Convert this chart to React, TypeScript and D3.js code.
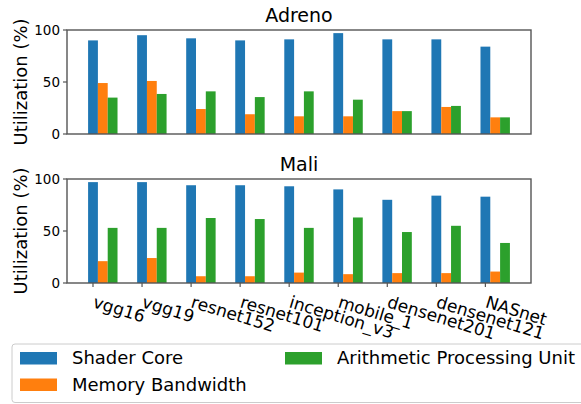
import React from "react";
import * as d3 from "d3";

const categories = ["vgg16", "vgg19", "resnet152", "resnet101", "inception_v3", "mobile_1", "densenet201", "densenet121", "NASnet"];
const seriesNames = ["Shader Core", "Memory Bandwidth", "Arithmetic Processing Unit"];
const colors = ["#1f77b4", "#ff7f0e", "#2ca02c"];

const adrenoShader = [90, 95, 92, 90, 91, 97, 91, 91, 84];
const adrenoMemory = [49, 51, 24, 19, 17, 17, 22, 26, 16];
const adrenoAPU = [35, 38.5, 41, 35.5, 41, 33, 22, 27, 16];

const maliShader = [97, 97, 94, 94, 93, 90, 80, 84, 83];
const maliMemory = [21, 24, 6.5, 6.5, 10, 8.5, 9.5, 9.5, 11];
const maliAPU = [53, 53, 62.5, 61.5, 53, 63, 49, 55, 38.5];

const yTicks = [0, 50, 100];

const FONT = "DejaVu Sans";
const left = 67;
const right = 531;
const barW = 0.2;

const x = d3.scaleLinear().domain([-0.53, 8.93]).range([left, right]);

function Panel({ title, top, bottom, series, showXTicks }: { title: string; top: number; bottom: number; series: number[][]; showXTicks: boolean }) {
  const y = d3.scaleLinear().domain([0, 100]).range([bottom, top]);
  const w = x(barW) - x(0);
  return (
    <g>
      <text x={(left + right) / 2} y={top - 8.5} textAnchor="middle" fontSize={19} fontFamily={FONT} fill="#000">{title}</text>
      {series.map((vals, s) =>
        vals.map((v, i) => (
          <rect key={`${s}-${i}`} x={x(i + s * barW) - w / 2} y={y(v)} width={w} height={y(0) - y(v)} fill={colors[s]} />
        ))
      )}
      <rect x={left} y={top} width={right - left} height={bottom - top} fill="none" stroke="#555" strokeWidth={1.4} />
      {yTicks.map((t) => (
        <g key={t}>
          <line x1={left - 4} x2={left} y1={y(t)} y2={y(t)} stroke="#555" strokeWidth={1.2} />
          <text x={left - 7} y={y(t)} dy="0.35em" textAnchor="end" fontSize={13.5} fontFamily={FONT} fill="#000">{t}</text>
        </g>
      ))}
      {showXTicks &&
        categories.map((c, i) => (
          <line key={c} x1={x(i)} x2={x(i)} y1={bottom} y2={bottom + 4} stroke="#555" strokeWidth={1.2} />
        ))}
      <text transform={`translate(27,${(top + bottom) / 2}) rotate(-90)`} textAnchor="middle" fontSize={18} fontFamily={FONT} fill="#000">Utilization (%)</text>
    </g>
  );
}

export default function App() {
  const legendRows = [
    { name: seriesNames[0], color: colors[0], lx: 20, ly: 358 },
    { name: seriesNames[1], color: colors[1], lx: 20, ly: 384.5 },
    { name: seriesNames[2], color: colors[2], lx: 285, ly: 358 },
  ];
  return (
    <svg width={581} height={404} style={{ position: "absolute", left: 0, top: 0, background: "#fff" }}>
      <rect x={0} y={0} width={581} height={404} fill="#fff" />
      <Panel title="Adreno" top={30} bottom={134} series={[adrenoShader, adrenoMemory, adrenoAPU]} showXTicks={false} />
      <Panel title="Mali" top={179} bottom={283} series={[maliShader, maliMemory, maliAPU]} showXTicks={true} />
      {categories.map((c, i) => (
        <text key={c} transform={`translate(${x(i) - 1},307) rotate(17)`} textAnchor="start" fontSize={17} fontFamily={FONT} fill="#000">{c}</text>
      ))}
      <rect x={12} y={344} width={600} height={58.5} rx={3} ry={3} fill="#fff" fillOpacity={0.8} stroke="#ccc" strokeWidth={1} />
      {legendRows.map((r) => (
        <g key={r.name}>
          <rect x={r.lx} y={r.ly - 6} width={37} height={12.5} fill={r.color} />
          <text x={r.lx + 52} y={r.ly} dy="0.36em" fontSize={18} fontFamily={FONT} fill="#000">{r.name}</text>
        </g>
      ))}
    </svg>
  );
}
